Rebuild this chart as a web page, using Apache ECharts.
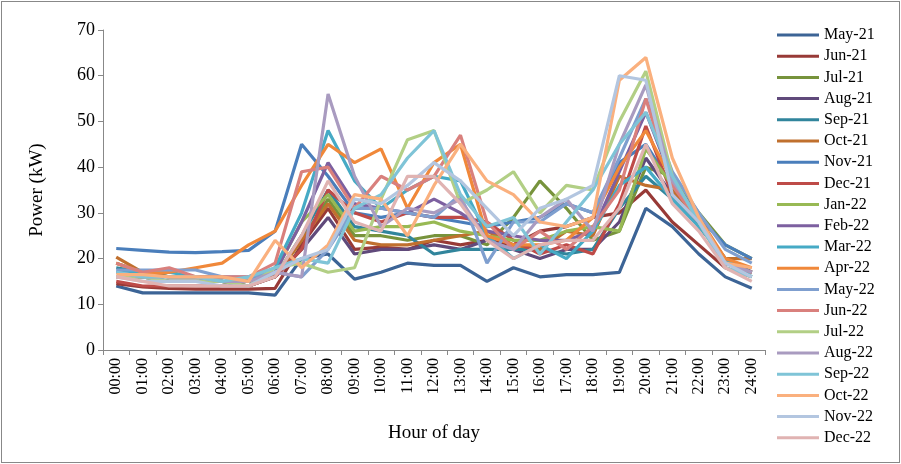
<!DOCTYPE html>
<html><head><meta charset="utf-8">
<script src="https://cdn.jsdelivr.net/npm/echarts@6/dist/echarts.min.js"></script>
<style>html,body{margin:0;background:#fff}#main{width:901px;height:464px}
#frame{position:absolute;left:1px;top:1px;width:897px;height:460px;border:1px solid #888;pointer-events:none}</style>
</head><body><div id="main"></div><div id="frame"></div>
<script>
const hours = ['00:00','01:00','02:00','03:00','04:00','05:00','06:00','07:00','08:00','09:00','10:00','11:00','12:00','13:00','14:00','15:00','16:00','17:00','18:00','19:00','20:00','21:00','22:00','23:00','24:00']
const names = ['May-21','Jun-21','Jul-21','Aug-21','Sep-21','Oct-21','Nov-21','Dec-21','Jan-22','Feb-22','Mar-22','Apr-22','May-22','Jun-22','Jul-22','Aug-22','Sep-22','Oct-22','Nov-22','Dec-22']
const colors = ['#3c6496','#983a37','#77933c','#604a7b','#31859c','#c0702e','#4a7ebb','#be4b48','#98b954','#7d60a0','#46aac5','#f0883a','#7f9fcf','#d9807d','#b2cf85','#a99bc0','#7fc4d7','#fab07e','#b3c6e0','#e0b3b2']

const may21 = [14,12.5,12.5,12.5,12.5,12.5,12,20,21,15.5,17,19,18.5,18.5,15,18,16,16.5,16.5,17,31,27,21,16,13.5]
const jun21 = [14.5,13.8,13.5,13.3,13.3,13.3,13.5,23,31,22,22.5,22,24,23,24,23,26,27,29,30,35,28,23,18,16]
const jul21 = [19,17,16,16,15,14,16,24,33,25,25,24,25,25,23,29,37,31,24,26,40,38,30,23,20]
const aug21 = [17,16,15,15,15,14,16,22,29,21,22,22,23,22,24,22,20,22,22,28,42,34,27,20,17]
const sep21 = [18,17,16,16,16,15,16,25,35,27,26,25,21,22,22,22,22,21,22,31,38,33,28,20,17]
const oct21 = [20.3,17,16,16,16,15,16,24,32,24,23,23,24,25,26,23,22,26,25,38,36,35,28,20,20]
const nov21 = [22.2,21.8,21.4,21.3,21.5,21.8,26,45,38,30,29,30,29,28,27,28,29,32,30,41,45,36,29,23,20]
const dec21 = [15,14,14,14,14,14,16,22,35,30,28,30,29,29,28,24,21,23,21,32,49,34,28,19,17]
const jan22 = [16,16,15,15,15,14,17,28,34,26,27,27,28,26,25,24,24,26,27,26,44,36,29,19,17]
const feb22 = [16,16,15,15,15,14,17,28,41,32,31,30,33,30,26,25,24,24,26,39,52,37,28,19,17]
const mar22 = [17,17,17,16,16,15,18,30,48,37,31,35,38,37,25,20,23,20,26,36,40,33,27,20,16]
const apr22 = [19,17,17,18,19,23,26,36,45,41,44,31,41,45,25,23,23,24,29,40,48,37,29,20,18]
const may22 = [17.5,17.5,17.5,17.5,16,16,17,16,22,31,31,30,29,34,19,28,28,32,30,42,55,39,30,22,19]
const jun22 = [19,17,18,16,16,16,19,39,40,31,38,35,38,47,28,22,26,22,27,35,55,36,28,19,17]
const jul22 = [16,16,15,15,15,14,18,19,17,18,33,46,48,32,35,39,30,36,35,50,61,38,28,18,16]
const aug22 = [17,16,16,16,15,15,17,16,56,38,27,31,30,33,24,22,29,33,26,45,58,37,29,19,17]
const sep22 = [17,16,16,16,15,16,18,20,19,31,34,42,48,34,27,29,21,28,35,45,52,38,28,18,16]
const oct22 = [16.5,16.5,16,16,16,15,24,18,23,34,33,25,36,45,37,34,28,27,29,59,64,42,29,19,18]
const nov22 = [16,15,15,15,14,14,17,20,22,33,32,36,41,37,31,25,31,33,36,60,59,34,28,19,16]
const dec22 = [16,15,14,14,14,14,16,25,37,28,26,38,38,32,24,20,23,24,24,31,45,32,26,18,15]
const values = [may21,jun21,jul21,aug21,sep21,oct21,nov21,dec21,jan22,feb22,mar22,apr22,may22,jun22,jul22,aug22,sep22,oct22,nov22,dec22]

const font = 'Liberation Serif'
var myChart = echarts.init(document.getElementById('main'))
myChart.setOption({
    animation: false,
    color: colors,
    textStyle: {fontFamily: font, color: '#000'},
    grid: {left: 103, right: 136, top: 30, bottom: 114},
    legend: {
        orient: 'vertical', left: 772, top: 22, height: 440, itemGap: 5.2, itemWidth: 42, itemHeight: 16,
        icon: 'path://M0,6.5H42V9.5H0Z',
        textStyle: {fontFamily: font, fontSize: 16, color: '#000'},
        data: names
    },
    xAxis: {
        type: 'category', data: hours, boundaryGap: true,
        name: 'Hour of day', nameLocation: 'middle', nameGap: 74,
        nameTextStyle: {fontFamily: font, fontSize: 19, color: '#000'},
        axisLine: {lineStyle: {color: '#888'}},
        axisTick: {show: true, length: 5, lineStyle: {color: '#888'}},
        axisLabel: {rotate: 90, fontSize: 16, color: '#000', fontFamily: font, margin: 8}
    },
    yAxis: {
        type: 'value', min: 0, max: 70, interval: 10,
        name: 'Power (kW)', nameLocation: 'middle', nameGap: 56, nameRotate: 90,
        nameTextStyle: {fontFamily: font, fontSize: 19, color: '#000'},
        axisLine: {show: true, lineStyle: {color: '#888'}},
        axisTick: {show: true, length: 5, lineStyle: {color: '#888'}},
        splitLine: {show: false},
        axisLabel: {fontSize: 18, color: '#000', fontFamily: font}
    },
    series: names.map((n, i) => ({
        name: n, type: 'line', data: values[i], symbol: 'none',
        lineStyle: {width: 3.2}
    }))
})
</script></body></html>
